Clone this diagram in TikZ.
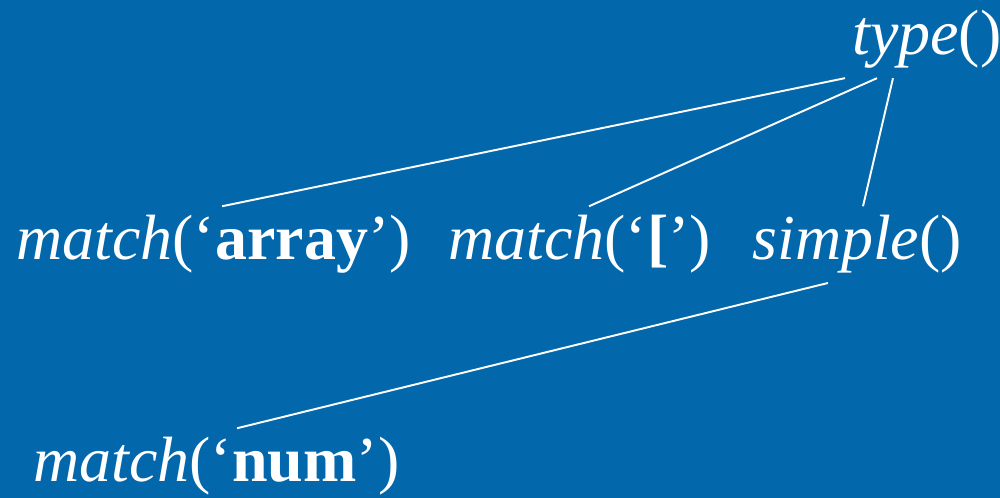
\documentclass[tikz,border=0pt]{standalone}
\usepackage{fontspec}
\setmainfont{Liberation Serif}
\usepackage{xcolor}
\usepackage{tikz}
\usetikzlibrary{positioning}

\definecolor{slideblue}{RGB}{3,103,172}

\begin{document}
\begin{tikzpicture}[
  call/.style={anchor=base west, inner xsep=0pt, inner ysep=0.18cm, text=white, font=\fontsize{36.4}{40}\selectfont},
  edge/.style={draw=white, line width=1.1pt}
]
  \fill[slideblue] (0,0) rectangle (20,9.96);
  \useasboundingbox (0,0) rectangle (20,9.96);

  \node[call] (type) at (17.04,8.86) {\textit{type}()};
  \node[call] (arr)  at (0.32,4.76)  {\textit{match}(`\textbf{array}')};
  \node[call] (brk)  at (8.96,4.76)  {\textit{match}(`\textbf{[}')};
  \node[call] (simp) at (15.04,4.76) {\textit{simple}()};
  \node[call] (num)  at (0.66,0.32)  {\textit{match}(`\textbf{num}')};

  \draw[edge] ([xshift=-0.14cm]type.south west) -- ([xshift=4.12cm]arr.north west);
  \draw[edge] ([xshift=0.5cm]type.south west) -- ([xshift=2.82cm]brk.north west);
  \draw[edge] ([xshift=0.82cm]type.south west) -- ([xshift=2.22cm]simp.north west);
  \draw[edge] ([xshift=1.52cm]simp.south west) -- ([xshift=4.08cm]num.north west);
\end{tikzpicture}
\end{document}
